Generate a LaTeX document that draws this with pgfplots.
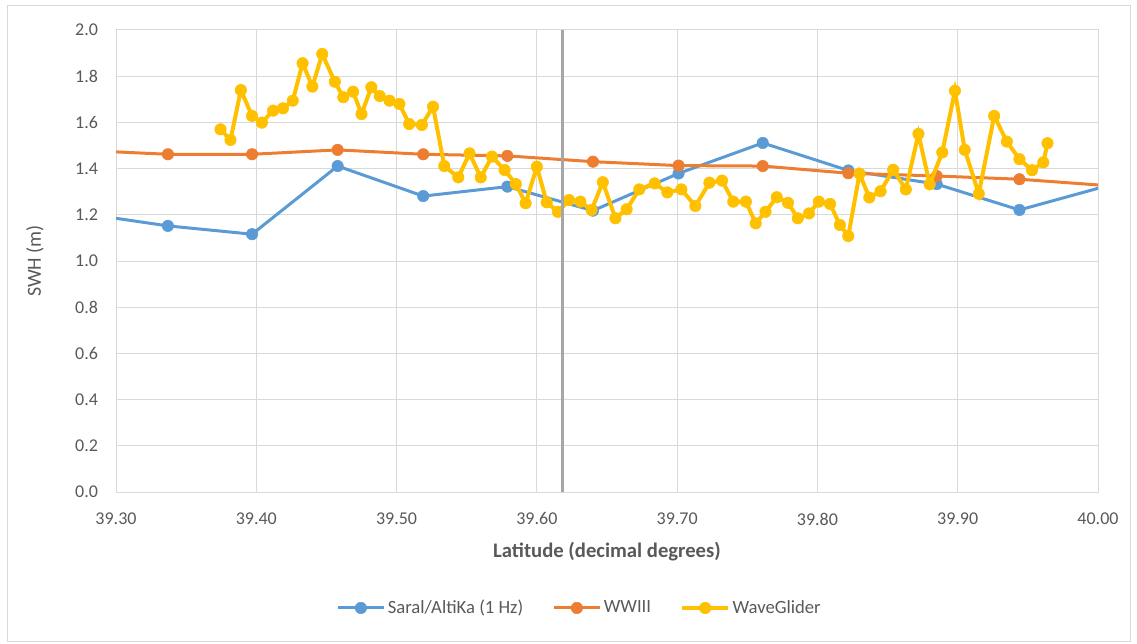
\documentclass[border=0pt]{standalone}
\usepackage{fontspec}
\setmainfont{Carlito}
\usepackage{pgfplots}
\pgfplotsset{compat=1.18}
\definecolor{sblue}{HTML}{5B9BD5}
\definecolor{sorange}{HTML}{ED7D31}
\definecolor{syellow}{HTML}{FFC000}
\definecolor{gridgray}{HTML}{D9D9D9}
\definecolor{txtgray}{HTML}{595959}
\definecolor{vgray}{HTML}{A6A6A6}
\begin{document}
\begin{tikzpicture}
\path (0,0) rectangle (852.75pt,482.25pt);
\draw[gridgray,line width=0.6pt] (5.5pt,1pt) rectangle (847.5pt,478pt);
\begin{axis}[
  at={(87pt,113.25pt)}, anchor=south west,
  scale only axis, width=736.5pt, height=346.5pt,
  xmin=39.3, xmax=40.0, ymin=0, ymax=2.0,
  xtick={39.3,39.4,39.5,39.6,39.7,39.8,39.9,40.0},
  ytick={0,0.2,0.4,0.6,0.8,1.0,1.2,1.4,1.6,1.8,2.0},
  grid=major,
  major grid style={gridgray, line width=0.75pt},
  axis line style={gridgray, line width=0.75pt},
  major tick length=0pt,
  tick label style={font=\fontsize{13.5}{15}\selectfont, text=txtgray},
  /pgf/number format/assume math mode=true,
  xticklabel style={/pgf/number format/.cd, fixed, fixed zerofill, precision=2, /tikz/.cd, yshift=-12pt},
  yticklabel style={/pgf/number format/.cd, fixed, fixed zerofill, precision=1, /tikz/.cd, xshift=-10pt},
  xlabel={\textbf{Latitude (decimal degrees)}},
  ylabel={SWH (m)},
  xlabel style={at={(axis description cs:0.5,-0.128)}, anchor=center, font=\fontsize{15.5}{17}\selectfont, text=txtgray},
  ylabel style={at={(axis description cs:-0.0825,0.5)}, anchor=center, rotate=0, font=\fontsize{15}{17}\selectfont, text=txtgray},
  clip mode=individual,
  legend columns=3,
  legend style={at={(axis description cs:0.4725,-0.251)}, anchor=center, draw=none, fill=none,
    font=\fontsize{14}{16}\selectfont, text=txtgray,
    /tikz/every even column/.append style={column sep=20pt}},
  legend image code/.code={\draw[mark repeat=2,mark phase=2,#1] plot coordinates {(0cm,0cm)(0.6cm,0cm)(1.2cm,0cm)};},
]
\addplot[sblue, line width=2.25pt, mark=*, mark size=4.3pt, mark options={solid, fill=sblue, draw=sblue, line width=0.4pt}] coordinates {
(39.276,1.206) (39.337,1.152) (39.397,1.116) (39.458,1.411) (39.519,1.281) (39.579,1.322)
(39.640,1.218) (39.701,1.379) (39.761,1.511) (39.822,1.392) (39.885,1.333) (39.944,1.221) (40.005,1.323)
};
\addlegendentry{Saral/AltiKa (1 Hz)}
\addplot[sorange, line width=2.25pt, mark=*, mark size=4.3pt, mark options={solid, fill=sorange, draw=sorange, line width=0.4pt}] coordinates {
(39.276,1.479) (39.337,1.462) (39.397,1.462) (39.458,1.481) (39.519,1.462) (39.579,1.455)
(39.640,1.430) (39.701,1.413) (39.761,1.411) (39.822,1.380) (39.885,1.368) (39.944,1.354) (40.005,1.327)
};
\addlegendentry{WWIII}
\addplot[syellow, line width=3pt, mark=*, mark size=4.3pt, mark options={solid, fill=syellow, draw=syellow, line width=0.4pt}] coordinates {
(39.3745,1.570) (39.3816,1.524) (39.389,1.740) (39.397,1.628) (39.404,1.599) (39.412,1.651)
(39.419,1.661) (39.426,1.694) (39.433,1.856) (39.440,1.755) (39.447,1.896) (39.456,1.776)
(39.462,1.709) (39.469,1.733) (39.475,1.636) (39.482,1.752) (39.488,1.714) (39.495,1.694)
(39.502,1.680) (39.509,1.593) (39.518,1.589) (39.526,1.668) (39.534,1.411) (39.544,1.362)
(39.552,1.466) (39.560,1.362) (39.568,1.452) (39.577,1.394) (39.585,1.333) (39.592,1.250)
(39.600,1.408) (39.607,1.254) (39.615,1.213) (39.623,1.264) (39.631,1.257) (39.639,1.221)
(39.647,1.341) (39.656,1.185) (39.664,1.224) (39.673,1.310) (39.684,1.336) (39.693,1.297)
(39.703,1.310) (39.713,1.238) (39.723,1.339) (39.732,1.348) (39.740,1.257) (39.749,1.257)
(39.756,1.163) (39.763,1.213) (39.771,1.276) (39.779,1.252) (39.786,1.185) (39.794,1.206)
(39.801,1.257) (39.809,1.247) (39.816,1.156) (39.822,1.108) (39.830,1.378) (39.837,1.275)
(39.845,1.302) (39.854,1.395) (39.863,1.310) (39.872,1.550) (39.880,1.332) (39.889,1.470)
(39.898,1.737) (39.905,1.481) (39.915,1.291) (39.926,1.628) (39.935,1.517) (39.944,1.441)
(39.953,1.393) (39.961,1.427) (39.964,1.510)
};
\addlegendentry{WaveGlider}
\addplot[vgray, line width=2.2pt, forget plot] coordinates {(39.618,0) (39.618,2.0)};
\end{axis}
\end{tikzpicture}
\end{document}
